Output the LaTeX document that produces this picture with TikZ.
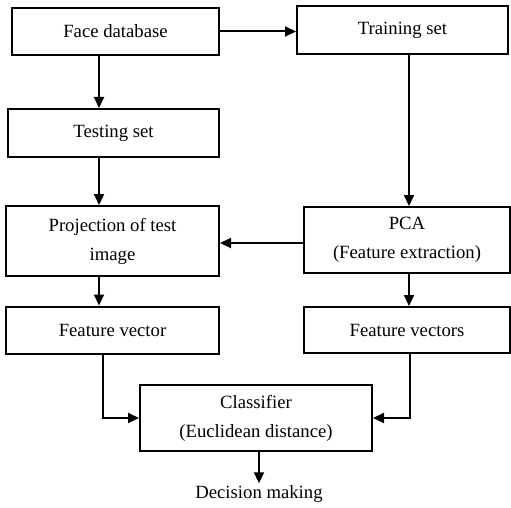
\documentclass[tikz,border=0pt]{standalone}
\usepackage{fontspec}
\setmainfont{Liberation Serif}
\usetikzlibrary{arrows.meta,positioning}
\tikzset{
    %Define standard arrow tip
    >={Triangle[length=11pt,width=10pt]},
    %Define style for boxes
    block/.style={
           rectangle,
           draw=black, line width=2pt,
           font=\fontsize{18.7}{29}\selectfont,
           align=center,
           inner sep=0pt},
    plain/.style={
           font=\fontsize{18.7}{29}\selectfont,
           inner sep=2pt},
    % Define arrow style
    pil/.style={
           ->,
           line width=2pt}
}
\begin{document}
\begin{tikzpicture}[x=1pt,y=-1pt]
\useasboundingbox (0,0) rectangle (511,508);

 %nodes
\node[block, minimum width=207pt, minimum height=47pt] (fdb) at (115.5,31.5) {Face database};
\node[block, minimum width=211pt, minimum height=48pt] (train) at (402.5,30) {Training set};
\node[block, minimum width=211pt, minimum height=48pt] (test) at (113.5,133) {Testing set};
\node[block, minimum width=213pt, minimum height=70pt] (proj) at (112.5,241) {Projection of test\\image};
\node[block, minimum width=206pt, minimum height=66pt] (pca) at (407,240) {PCA\\(Feature extraction)};
\node[block, minimum width=213pt, minimum height=47pt] (fv) at (112.5,330) {Feature vector};
\node[block, minimum width=206pt, minimum height=46pt] (fvs) at (407,330) {Feature vectors};
\node[block, minimum width=232pt, minimum height=66pt] (cls) at (256,418) {Classifier\\(Euclidean distance)};
\node[plain] (dec) at (259,494) {Decision making};

 %columns for the vertical connectors
\coordinate (colL) at (99,0);
\coordinate (colR) at (409,0);
\coordinate (inL) at (103,0);
\coordinate (inR) at (410,0);

 %connectors
\draw[pil] (fdb.east) -- (fdb.east -| train.west);
\draw[pil] (fdb.south -| colL) -- (test.north -| colL);
\draw[pil] (test.south -| colL) -- (proj.north -| colL);
\draw[pil] (train.south -| colR) -- (pca.north -| colR);
\draw[pil] (pca.west |- 0,243) -- (proj.east |- 0,243);
\draw[pil] (proj.south -| colL) -- (fv.north -| colL);
\draw[pil] (pca.south -| colR) -- (fvs.north -| colR);
\draw[pil] (fv.south -| inL) |- (cls.west);
\draw[pil] (fvs.south -| inR) |- (cls.east);
\draw[pil] (cls.south -| dec) -- (dec.north);

\end{tikzpicture}
\end{document}
